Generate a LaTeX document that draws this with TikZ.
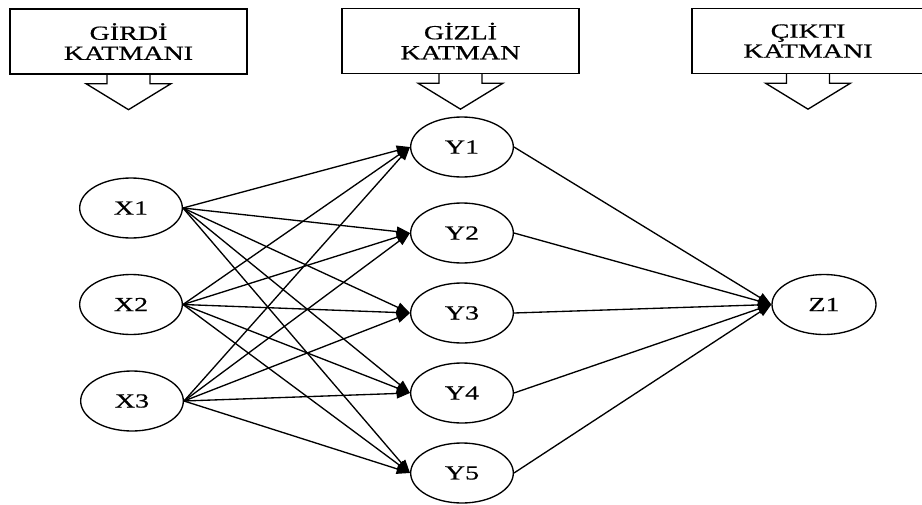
\documentclass[tikz,border=0pt]{standalone}
\usepackage{fontspec}
\newfontfamily\labfont[FakeStretch=1.4,FakeBold=0.6]{Liberation Serif}
\usetikzlibrary{arrows.meta,shapes.geometric}
\newcommand\blockarr[1]{\draw[blkarrow] (#1.south) ++(-21.5,0) -- ++(0,9) -- ++(-21,0) -- ++(42.5,26) -- ++(42.5,-26) -- ++(-21,0) -- ++(0,-9);}
\begin{document}
\begin{tikzpicture}[x=0.75pt,y=-0.75pt,
  labtext/.style={font=\labfont\fontsize{15}{15}\selectfont},
  layerbox/.style={draw,line width=1pt,rectangle,minimum height=48.75pt,inner sep=0pt,align=center,labtext},
  blkarrow/.style={draw,line width=1pt,line join=miter},
  neuron/.style={draw,ellipse,line width=1pt,minimum width=77pt,minimum height=45pt,inner sep=0pt,labtext},
  conn/.style={line width=1pt,-{Triangle[length=10pt,width=7.5pt]}}]
\useasboundingbox (0,0) rectangle (922,504);
% layer boxes
\node[layerbox,minimum width=177.75pt] (b1) at (128.5,41.5) {GİRDİ\\KATMANI};
\node[layerbox,minimum width=177.75pt] (b2) at (460.5,41) {GİZLİ\\KATMAN};
\node[layerbox,minimum width=174pt] (b3) at (808,41) {ÇIKTI\\KATMANI};
\blockarr{b1}
\blockarr{b2}
\blockarr{b3}
% neurons
\node[neuron] (x1) at (131,208) {X1};
\node[neuron] (x2) at (131,304.5) {X2};
\node[neuron] (x3) at (132,401) {X3};
\node[neuron] (y1) at (462,147) {Y1};
\node[neuron] (y2) at (462,233) {Y2};
\node[neuron] (y3) at (462,313) {Y3};
\node[neuron] (y4) at (462,393) {Y4};
\node[neuron] (y5) at (462,473) {Y5};
\node[neuron,minimum width=78pt] (z1) at (824,304.5) {Z1};
% connections
\foreach \i in {1,2,3}{
  \foreach \j in {1,2,3,4,5}{
    \draw[conn] (x\i.east) -- (y\j.west);
  }
}
\foreach \j in {1,2,3,4,5}{
  \draw[conn] (y\j.east) -- (z1.west);
}
\end{tikzpicture}
\end{document}
